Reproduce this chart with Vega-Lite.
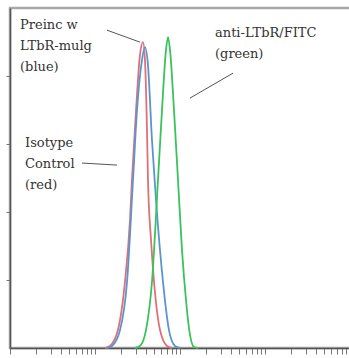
{
  "$schema": "https://vega.github.io/schema/vega-lite/v6.json",
  "autosize": {"type": "none"},
  "width": 343,
  "height": 340,
  "padding": {"left": 10, "top": 8, "right": 0, "bottom": 10},
  "background": "white",
  "config": {
    "view": {"stroke": "#a8a8a8", "strokeWidth": 2.5},
    "axis": {"grid": false, "labels": false, "title": null, "domainColor": "#555", "domainWidth": 1.5, "tickColor": "#777"}
  },
  "datasets": {
    "curves": [
      {"series": "Isotype", "fl": 13.1, "count": 0},
      {"series": "Isotype", "fl": 15.0, "count": 1.5},
      {"series": "Isotype", "fl": 18.6, "count": 13.2},
      {"series": "Isotype", "fl": 22.5, "count": 48.5},
      {"series": "Isotype", "fl": 25.8, "count": 94.1},
      {"series": "Isotype", "fl": 27.2, "count": 123.5},
      {"series": "Isotype", "fl": 30.4, "count": 174.9},
      {"series": "Isotype", "fl": 33.8, "count": 215.4},
      {"series": "Isotype", "fl": 36.7, "count": 224.9},
      {"series": "Isotype", "fl": 38.7, "count": 211.7},
      {"series": "Isotype", "fl": 40.9, "count": 160.2},
      {"series": "Isotype", "fl": 42.0, "count": 123.5},
      {"series": "Isotype", "fl": 45.6, "count": 79.4},
      {"series": "Isotype", "fl": 49.5, "count": 48.5},
      {"series": "Isotype", "fl": 58.2, "count": 13.2},
      {"series": "Isotype", "fl": 70.3, "count": 1.5},
      {"series": "Isotype", "fl": 80.5, "count": 0},
      {"series": "Preinc", "fl": 13.8, "count": 0},
      {"series": "Preinc", "fl": 15.85, "count": 1.5},
      {"series": "Preinc", "fl": 19.7, "count": 13.2},
      {"series": "Preinc", "fl": 23.8, "count": 48.5},
      {"series": "Preinc", "fl": 28.0, "count": 123.5},
      {"series": "Preinc", "fl": 31.2, "count": 174.9},
      {"series": "Preinc", "fl": 35.7, "count": 211.7},
      {"series": "Preinc", "fl": 38.7, "count": 221.2},
      {"series": "Preinc", "fl": 42.0, "count": 208.0},
      {"series": "Preinc", "fl": 46.8, "count": 152.9},
      {"series": "Preinc", "fl": 52.2, "count": 108.8},
      {"series": "Preinc", "fl": 63.1, "count": 48.5},
      {"series": "Preinc", "fl": 74.2, "count": 13.2},
      {"series": "Preinc", "fl": 87.3, "count": 1.5},
      {"series": "Preinc", "fl": 100, "count": 0},
      {"series": "anti", "fl": 29.6, "count": 0},
      {"series": "anti", "fl": 33.8, "count": 1.5},
      {"series": "anti", "fl": 39.8, "count": 13.2},
      {"series": "anti", "fl": 46.8, "count": 48.5},
      {"series": "anti", "fl": 55.1, "count": 123.5},
      {"series": "anti", "fl": 61.4, "count": 174.9},
      {"series": "anti", "fl": 68.4, "count": 219.0},
      {"series": "anti", "fl": 72.3, "count": 228.6},
      {"series": "anti", "fl": 76.3, "count": 219.0},
      {"series": "anti", "fl": 85.0, "count": 174.9},
      {"series": "anti", "fl": 94.7, "count": 123.5},
      {"series": "anti", "fl": 105.6, "count": 72.0},
      {"series": "anti", "fl": 117.6, "count": 35.3},
      {"series": "anti", "fl": 131.1, "count": 9.6},
      {"series": "anti", "fl": 146.1, "count": 0.7},
      {"series": "anti", "fl": 162.8, "count": 0}
    ],
    "labels": [
      {"label": "Preinc w\nLTbR-mulg\n(blue)", "fl": 1.311, "count": 237.4},
      {"label": "Isotype\nControl\n(red)", "fl": 1.502, "count": 150.7},
      {"label": "anti-LTbR/FITC\n(green)", "fl": 258.1, "count": 231.5}
    ],
    "pointers": [
      {"fl": 13.84, "count": 233.7, "fl2": 33.8, "count2": 224.9},
      {"fl": 7.03, "count": 136.0, "fl2": 18.15, "count2": 134.5},
      {"fl": 420.3, "count": 202.1, "fl2": 131.1, "count2": 183.75}
    ]
  },
  "layer": [
    {
      "data": {"name": "curves"},
      "mark": {"type": "line", "interpolate": "monotone", "strokeWidth": 1.8},
      "encoding": {
        "x": {"field": "fl", "type": "quantitative",
          "scale": {"type": "log", "domain": [1, 10846], "nice": false},
          "axis": {"tickSize": 6, "values": [1,2,3,4,5,6,7,8,9,10,20,30,40,50,60,70,80,90,100,200,300,400,500,600,700,800,900,1000,2000,3000,4000,5000,6000,7000,8000,9000,10000]}},
        "y": {"field": "count", "type": "quantitative",
          "scale": {"domain": [0, 250], "nice": false},
          "axis": {"tickSize": 4, "values": [50, 100, 150, 200]}},
        "color": {"field": "series", "type": "nominal", "legend": null,
          "scale": {"domain": ["Isotype", "Preinc", "anti"], "range": ["#e07078", "#5b95cf", "#3cc25c"]}}
      }
    },
    {
      "data": {"name": "pointers"},
      "mark": {"type": "rule", "color": "#555", "strokeWidth": 1},
      "encoding": {
        "x": {"field": "fl", "type": "quantitative"},
        "y": {"field": "count", "type": "quantitative"},
        "x2": {"field": "fl2"},
        "y2": {"field": "count2"}
      }
    },
    {
      "data": {"name": "labels"},
      "mark": {"type": "text", "align": "left", "baseline": "middle", "font": "DejaVu Serif", "fontSize": 13, "lineBreak": "\n", "lineHeight": 21, "color": "#333"},
      "encoding": {
        "x": {"field": "fl", "type": "quantitative"},
        "y": {"field": "count", "type": "quantitative"},
        "text": {"field": "label"}
      }
    }
  ]
}
